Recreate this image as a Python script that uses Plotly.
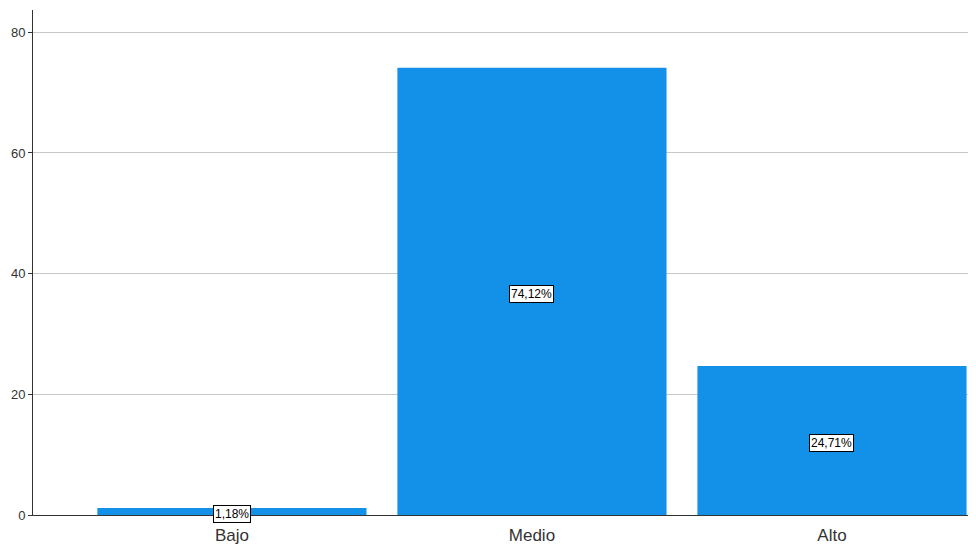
import plotly.graph_objects as go

categorias = ["Bajo", "Medio", "Alto"]
porcentajes = [1.18, 74.12, 24.71]
etiquetas = ["1,18%", "74,12%", "24,71%"]

fig = go.Figure()
fig.add_trace(go.Bar(
    x=categorias,
    y=porcentajes,
    marker_color="#1390e8",
    marker_line_width=0,
    width=0.897,
))

for c, v, t in zip(categorias, porcentajes, etiquetas):
    fig.add_annotation(
        x=c, y=v / 2, text=t, showarrow=False, yshift=-3,
        font=dict(family="Arial", size=12, color="black"),
        bgcolor="white", bordercolor="black", borderwidth=1, borderpad=1,
    )

# the page body has an 8px margin, so the figure is shrunk to fit
fig.update_layout(
    width=968, height=540,
    margin=dict(l=25, r=0, t=2, b=33),
    paper_bgcolor="white",
    plot_bgcolor="white",
    showlegend=False,
    xaxis=dict(
        range=[-0.663, 2.48],
        showline=True, linecolor="#333333", linewidth=1,
        ticks="outside", ticklen=5, tickcolor="rgba(0,0,0,0)",
        tickfont=dict(family="Arial", size=17, color="#333333"),
        showgrid=False,
    ),
    yaxis=dict(
        range=[0, 83.7],
        tickvals=[0, 20, 40, 60, 80],
        showline=True, linecolor="#333333", linewidth=1,
        ticks="outside", ticklen=4, tickcolor="#333333",
        tickfont=dict(family="Arial", size=13, color="#333333"),
        showgrid=True, gridcolor="#c8c8c8", gridwidth=1,
        zeroline=False,
    ),
)

fig.write_html("out.html")
